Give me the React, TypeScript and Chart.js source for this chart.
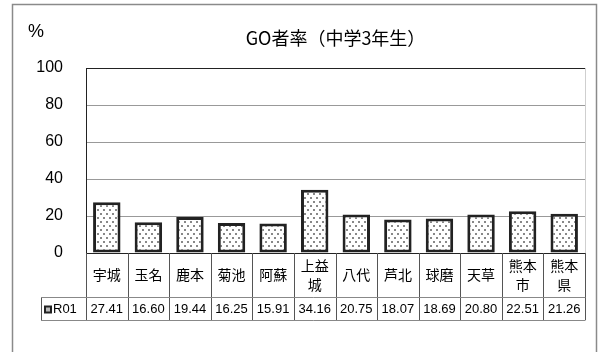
import React, { useEffect, useRef } from 'react';
import { Chart, registerables } from 'chart.js';

Chart.register(...registerables);

const chartTitle = 'GO者率（中学3年生）';
const unitLabel = '%';
const seriesName = 'R01';
const categories: string[][] = [
  ['宇城'], ['玉名'], ['鹿本'], ['菊池'], ['阿蘇'], ['上益', '城'],
  ['八代'], ['芦北'], ['球磨'], ['天草'], ['熊本', '市'], ['熊本', '県'],
];
const values: number[] = [27.41, 16.6, 19.44, 16.25, 15.91, 34.16, 20.75, 18.07, 18.69, 20.8, 22.51, 21.26];
const yMin = 0;
const yMax = 100;
const yStep = 20;

const NUM_FONT = '"Liberation Sans", Arial, sans-serif';
const JP_FONT = '"Noto Sans CJK JP", "Liberation Sans", sans-serif';

function makePattern(): CanvasPattern | string {
  const c = document.createElement('canvas');
  c.width = 6;
  c.height = 8;
  const g = c.getContext('2d');
  if (!g) return '#eee';
  g.fillStyle = '#fff';
  g.fillRect(0, 0, 6, 8);
  g.fillStyle = '#888';
  g.fillRect(1, 1, 2, 2);
  g.fillRect(4, 5, 2, 2);
  const p = g.createPattern(c, 'repeat');
  return p || '#eee';
}

const framePlugin = {
  id: 'framePlugin',
  beforeDraw(chart: any) {
    const { ctx, width, height } = chart;
    ctx.save();
    ctx.fillStyle = '#fff';
    ctx.fillRect(0, 0, width, height);
    ctx.strokeStyle = '#8a8a8a';
    ctx.lineWidth = 1.5;
    ctx.strokeRect(12.5, 4.5, 584, 420);
    ctx.restore();
  },
  afterDraw(chart: any) {
    const { ctx, chartArea } = chart;
    const xs = chart.scales.x;
    const n = categories.length;
    const left = chartArea.left;
    const right = chartArea.right;
    const w = (right - left) / n;
    const top = chartArea.bottom;
    const mid = top + 44;
    const bottom = mid + 23;
    const legendLeft = 41;

    ctx.save();
    // right light border of plot
    ctx.strokeStyle = '#cfcfcf';
    ctx.lineWidth = 1;
    ctx.beginPath();
    ctx.moveTo(Math.round(right) + 0.5, chartArea.top);
    ctx.lineTo(Math.round(right) + 0.5, chartArea.bottom);
    ctx.stroke();

    // table lines
    ctx.strokeStyle = '#555';
    ctx.lineWidth = 1;
    ctx.beginPath();
    for (let i = 0; i <= n; i++) {
      const x = Math.round(left + i * w) + 0.5;
      ctx.moveTo(x, top);
      ctx.lineTo(x, bottom);
    }
    ctx.moveTo(legendLeft + 0.5, mid);
    ctx.lineTo(legendLeft + 0.5, bottom);
    ctx.stroke();
    ctx.strokeStyle = '#888';
    ctx.beginPath();
    ctx.moveTo(legendLeft, Math.round(mid) + 0.5);
    ctx.lineTo(right + 0.5, Math.round(mid) + 0.5);
    ctx.moveTo(legendLeft, Math.round(bottom) + 0.5);
    ctx.lineTo(right + 0.5, Math.round(bottom) + 0.5);
    ctx.stroke();

    // category labels
    ctx.fillStyle = '#000';
    ctx.textAlign = 'center';
    ctx.textBaseline = 'middle';
    ctx.font = `14px ${JP_FONT}`;
    categories.forEach((lines, i) => {
      const cx = xs.getPixelForValue(i);
      const cy = (top + mid) / 2;
      const lh = 19;
      lines.forEach((ln, j) => {
        const y = cy + (j - (lines.length - 1) / 2) * lh;
        ctx.fillText(ln, cx, y);
      });
    });

    // values row
    ctx.font = `13px ${NUM_FONT}`;
    const vy = (mid + bottom) / 2 + 1;
    values.forEach((v, i) => {
      ctx.fillText(v.toFixed(2), xs.getPixelForValue(i), vy);
    });

    // legend cell
    ctx.fillStyle = '#222';
    ctx.fillRect(44, vy - 4, 8, 8);
    ctx.fillStyle = '#bbb';
    ctx.fillRect(46, vy - 2, 4, 4);
    ctx.fillStyle = '#000';
    ctx.textAlign = 'left';
    ctx.fillText(seriesName, 53, vy);

    // title and unit
    ctx.font = `18px ${JP_FONT}`;
    ctx.textAlign = 'center';
    ctx.fillText(chartTitle, (left + right) / 2, 38);
    ctx.font = `18px ${NUM_FONT}`;
    ctx.textAlign = 'left';
    ctx.fillText(unitLabel, 28, 32);
    ctx.restore();
  },
};

export default function App() {
  const ref = useRef<HTMLCanvasElement | null>(null);
  useEffect(() => {
    if (!ref.current) return;
    const pattern = makePattern();
    const chart = new Chart(ref.current, {
      type: 'bar',
      data: {
        labels: categories,
        datasets: [
          {
            label: seriesName,
            data: values,
            backgroundColor: pattern as any,
            borderColor: '#222',
            borderWidth: 3,
            borderSkipped: false,
            categoryPercentage: 0.66,
            barPercentage: 1,
          },
        ],
      },
      options: {
        responsive: false,
        animation: false,
        devicePixelRatio: 1,
        layout: { padding: { left: 0, top: 68, right: 15, bottom: 99 } },
        plugins: { legend: { display: false }, tooltip: { enabled: false }, title: { display: false } },
        scales: {
          x: { display: false },
          y: {
            min: yMin,
            max: yMax,
            afterFit: (s: any) => { s.width = 86; },
            ticks: {
              stepSize: yStep,
              padding: 23,
              color: '#000',
              font: { size: 16, family: NUM_FONT },
            },
            grid: {
              drawTicks: false,
              color: (c: any) => (c.tick && (c.tick.value === yMin || c.tick.value === yMax) ? '#222' : '#999'),
              lineWidth: 1,
            },
            border: { display: true, color: '#222', width: 1 },
          },
        },
      },
      plugins: [framePlugin],
    });
    return () => chart.destroy();
  }, []);
  return (
    <div style={{ position: 'fixed', left: 0, top: 0, width: 600, height: 352 }}>
      <canvas ref={ref} width={600} height={352} style={{ width: 600, height: 352, display: 'block' }} />
    </div>
  );
}
